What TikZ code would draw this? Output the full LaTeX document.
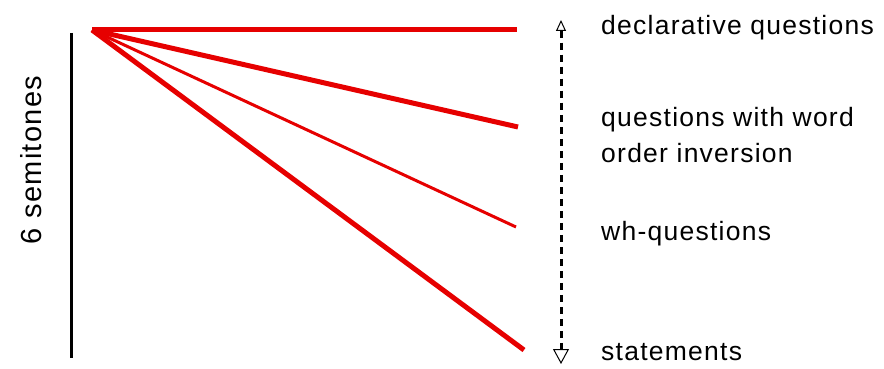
\documentclass[tikz,border=0pt]{standalone}
\usepackage{fontspec}
\setmainfont{Liberation Sans}[LetterSpace=4.7]
\usetikzlibrary{arrows.meta}
\definecolor{tone}{RGB}{230,0,0}
\begin{document}
\begin{tikzpicture}[x=1pt,y=-1pt,
  contour/.style={draw=tone,line width=#1},
  lbl/.style={anchor=west,inner sep=0pt,font=\fontsize{26.5}{36}\selectfont,align=left},
  scaleline/.style={draw=black,line width=3pt}]
\useasboundingbox (0,0) rectangle (884,369);
\coordinate (o) at (92,30);
\coordinate (e1) at (517,30);
\coordinate (e2) at (518,127);
\coordinate (e3) at (516,227);
\coordinate (e4) at (524,350);
\draw[contour=5pt] (o) -- (e1);
\draw[contour=5pt] (o) -- (e2);
\draw[contour=3pt] (o) -- (e3);
\draw[contour=5pt] (o) -- (e4);
\coordinate (s1) at (71,33);
\coordinate (s2) at (71,358);
\draw[scaleline] (s1) -- (s2);
\node[rotate=90,inner sep=0pt,font=\fontsize{29}{30}\selectfont] (semi) at (31,160) {6 semitones};
\coordinate (a1) at (561,20);
\coordinate (a2) at (561,364);
\draw[line width=3pt,dash pattern=on 7pt off 5pt,
  {Triangle[open,width=10pt,length=11pt,line width=1pt]}-{Triangle[open,width=16pt,length=15pt,line width=1pt]}] (a1) -- (a2);
\node[lbl] (t1) at (601,28) {declarative questions};
\node[lbl] (t2) at (601,135) {questions with word\\order inversion};
\node[lbl] (t3) at (601,234) {wh-questions};
\node[lbl] (t4) at (601,352) {statements};
\end{tikzpicture}
\end{document}
